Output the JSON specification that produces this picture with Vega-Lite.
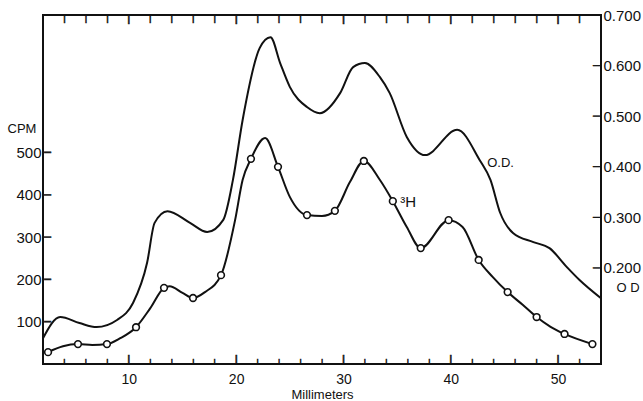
{
  "$schema": "https://vega.github.io/schema/vega-lite/v6.json",
  "width": 558,
  "height": 349,
  "autosize": {"type": "none"},
  "padding": {"left": 43, "top": 15, "right": 42, "bottom": 37},
  "background": "white",
  "config": {
    "view": {"stroke": "#111", "strokeWidth": 2},
    "font": "Liberation Sans",
    "axis": {
      "domain": false,
      "grid": false,
      "ticks": false,
      "labelColor": "#111",
      "labelFont": "Liberation Sans",
      "labelFontSize": 15,
      "titleColor": "#111",
      "titleFont": "Liberation Sans",
      "titleFontWeight": "normal"
    }
  },
  "datasets": {
    "od": [
      {"mm": 2.0, "od": 0.061}, {"mm": 3.6, "od": 0.103}, {"mm": 5.4, "od": 0.091},
      {"mm": 7.0, "od": 0.083}, {"mm": 8.9, "od": 0.097}, {"mm": 10.4, "od": 0.131},
      {"mm": 11.7, "od": 0.21}, {"mm": 12.4, "od": 0.289}, {"mm": 13.6, "od": 0.312},
      {"mm": 15.7, "od": 0.289}, {"mm": 17.3, "od": 0.271}, {"mm": 18.8, "od": 0.295},
      {"mm": 19.7, "od": 0.374}, {"mm": 20.6, "od": 0.492}, {"mm": 22.2, "od": 0.635},
      {"mm": 23.2, "od": 0.656}, {"mm": 24.1, "od": 0.605}, {"mm": 25.0, "od": 0.558},
      {"mm": 26.6, "od": 0.518}, {"mm": 27.8, "od": 0.506}, {"mm": 29.7, "od": 0.546},
      {"mm": 30.9, "od": 0.597}, {"mm": 32.0, "od": 0.605}, {"mm": 33.4, "od": 0.577},
      {"mm": 34.3, "od": 0.546}, {"mm": 35.9, "od": 0.459}, {"mm": 37.6, "od": 0.423},
      {"mm": 40.6, "od": 0.473}, {"mm": 42.7, "od": 0.413}, {"mm": 43.7, "od": 0.374},
      {"mm": 44.6, "od": 0.309}, {"mm": 45.8, "od": 0.269}, {"mm": 47.7, "od": 0.251},
      {"mm": 49.2, "od": 0.239}, {"mm": 50.8, "od": 0.202}, {"mm": 52.0, "od": 0.176},
      {"mm": 54.0, "od": 0.14}
    ],
    "h3": [
      {"mm": 2.47, "cpm": 28, "obs": 1}, {"mm": 3.86, "cpm": 42, "obs": 0},
      {"mm": 5.26, "cpm": 47, "obs": 1}, {"mm": 6.6, "cpm": 45, "obs": 0},
      {"mm": 7.96, "cpm": 47, "obs": 1}, {"mm": 9.2, "cpm": 61, "obs": 0},
      {"mm": 10.67, "cpm": 87, "obs": 1}, {"mm": 12.0, "cpm": 132, "obs": 0},
      {"mm": 13.28, "cpm": 180, "obs": 1}, {"mm": 13.8, "cpm": 184, "obs": 0},
      {"mm": 15.0, "cpm": 168, "obs": 0}, {"mm": 15.98, "cpm": 156, "obs": 1},
      {"mm": 17.1, "cpm": 170, "obs": 0}, {"mm": 18.59, "cpm": 210, "obs": 1},
      {"mm": 19.9, "cpm": 340, "obs": 0}, {"mm": 20.6, "cpm": 435, "obs": 0},
      {"mm": 21.38, "cpm": 485, "obs": 1}, {"mm": 22.7, "cpm": 534, "obs": 0},
      {"mm": 23.9, "cpm": 466, "obs": 1}, {"mm": 25.0, "cpm": 395, "obs": 0},
      {"mm": 26.6, "cpm": 352, "obs": 1}, {"mm": 28.0, "cpm": 350, "obs": 0},
      {"mm": 29.2, "cpm": 362, "obs": 1}, {"mm": 30.6, "cpm": 430, "obs": 0},
      {"mm": 31.9, "cpm": 480, "obs": 1}, {"mm": 33.4, "cpm": 435, "obs": 0},
      {"mm": 34.6, "cpm": 385, "obs": 1}, {"mm": 35.9, "cpm": 324, "obs": 0},
      {"mm": 37.2, "cpm": 274, "obs": 1}, {"mm": 39.8, "cpm": 340, "obs": 1},
      {"mm": 41.1, "cpm": 324, "obs": 0}, {"mm": 42.6, "cpm": 246, "obs": 1},
      {"mm": 43.9, "cpm": 206, "obs": 0}, {"mm": 45.3, "cpm": 170, "obs": 1},
      {"mm": 46.7, "cpm": 140, "obs": 0}, {"mm": 48.0, "cpm": 111, "obs": 1},
      {"mm": 49.3, "cpm": 88, "obs": 0}, {"mm": 50.6, "cpm": 71, "obs": 1},
      {"mm": 53.2, "cpm": 47, "obs": 1}
    ],
    "minorTicks": [
      {"mm": 4}, {"mm": 6}, {"mm": 8}, {"mm": 12}, {"mm": 14}, {"mm": 16}, {"mm": 18},
      {"mm": 22}, {"mm": 24}, {"mm": 26}, {"mm": 28}, {"mm": 32}, {"mm": 34}, {"mm": 36},
      {"mm": 38}, {"mm": 42}, {"mm": 44}, {"mm": 46}, {"mm": 48}, {"mm": 52}
    ],
    "majorTicks": [{"mm": 10}, {"mm": 20}, {"mm": 30}, {"mm": 40}, {"mm": 50}]
  },
  "resolve": {"scale": {"y": "independent"}, "axis": {"x": "independent", "y": "independent"}},
  "layer": [
    {
      "data": {"name": "od"},
      "mark": {"type": "line", "interpolate": "monotone", "color": "#111", "strokeWidth": 2},
      "encoding": {
        "x": {
          "field": "mm", "type": "quantitative",
          "scale": {"domain": [2, 54], "nice": false, "zero": false},
          "axis": {
            "orient": "bottom",
            "values": [10, 20, 30, 40, 50],
            "labelFontSize": 14,
            "labelPadding": 8,
            "title": "Millimeters",
            "titleFontSize": 13,
            "titleBaseline": "middle",
            "titleY": 30
          }
        },
        "y": {
          "field": "od", "type": "quantitative",
          "scale": {"domain": [0.01, 0.7], "nice": false, "zero": false},
          "axis": {
            "orient": "right",
            "values": [0.2, 0.3, 0.4, 0.5, 0.6, 0.7],
            "format": ".3f",
            "labelPadding": 2,
            "title": "O D",
            "titleAngle": 0,
            "titleFontSize": 13,
            "titleAlign": "left",
            "titleBaseline": "middle",
            "titleX": 15,
            "titleY": 272
          }
        }
      }
    },
    {
      "data": {"name": "h3"},
      "mark": {"type": "line", "interpolate": "monotone", "color": "#111", "strokeWidth": 2},
      "encoding": {
        "x": {"field": "mm", "type": "quantitative", "axis": null},
        "y": {
          "field": "cpm", "type": "quantitative",
          "scale": {"domain": [0, 825], "nice": false, "zero": false},
          "axis": {
            "orient": "left",
            "values": [100, 200, 300, 400, 500],
            "labelPadding": 2,
            "title": "CPM",
            "titleAngle": 0,
            "titleFontSize": 13,
            "titleAlign": "left",
            "titleBaseline": "middle",
            "titleX": -36,
            "titleY": 113
          }
        }
      }
    },
    {
      "data": {"name": "h3"},
      "transform": [{"filter": "datum.obs === 1"}],
      "mark": {"type": "point", "shape": "circle", "filled": true, "fill": "white", "stroke": "#111", "strokeWidth": 1.6, "size": 45, "opacity": 1},
      "encoding": {
        "x": {"field": "mm", "type": "quantitative", "axis": null},
        "y": {"field": "cpm", "type": "quantitative", "scale": {"domain": [0, 825], "nice": false, "zero": false}, "axis": null}
      }
    },
    {
      "data": {"values": [{}]},
      "mark": {"type": "text", "text": "O.D.", "align": "left", "baseline": "middle", "fontSize": 13, "color": "#111"},
      "encoding": {
        "x": {"datum": 43.4, "type": "quantitative", "axis": null},
        "y": {"datum": 0.407, "type": "quantitative", "scale": {"domain": [0.01, 0.7], "nice": false, "zero": false}, "axis": null}
      }
    },
    {
      "data": {"values": [{}]},
      "mark": {"type": "text", "text": "³H", "align": "left", "baseline": "middle", "fontSize": 15, "color": "#111"},
      "encoding": {
        "x": {"datum": 35.3, "type": "quantitative", "axis": null},
        "y": {"datum": 383, "type": "quantitative", "scale": {"domain": [0, 825], "nice": false, "zero": false}, "axis": null}
      }
    },
    {
      "data": {"name": "minorTicks"},
      "mark": {"type": "text", "text": "|", "align": "center", "baseline": "middle", "fontSize": 6, "fontWeight": "bold", "fill": "#111", "stroke": "#111", "strokeWidth": 0.5},
      "encoding": {
        "x": {"field": "mm", "type": "quantitative", "axis": null},
        "y": {"datum": 7.1, "type": "quantitative", "scale": {"domain": [0, 825], "nice": false, "zero": false}, "axis": null}
      }
    },
    {
      "data": {"name": "minorTicks"},
      "mark": {"type": "text", "text": "|", "align": "center", "baseline": "top", "fontSize": 7, "fontWeight": "bold", "fill": "#111", "stroke": "#111", "strokeWidth": 0.5},
      "encoding": {
        "x": {"field": "mm", "type": "quantitative", "axis": null},
        "y": {"datum": 825, "type": "quantitative", "scale": {"domain": [0, 825], "nice": false, "zero": false}, "axis": null}
      }
    },
    {
      "data": {"name": "majorTicks"},
      "mark": {"type": "text", "text": "|", "align": "center", "baseline": "middle", "fontSize": 9, "fontWeight": "bold", "fill": "#111", "stroke": "#111", "strokeWidth": 0.5},
      "encoding": {
        "x": {"field": "mm", "type": "quantitative", "axis": null},
        "y": {"datum": 11.8, "type": "quantitative", "scale": {"domain": [0, 825], "nice": false, "zero": false}, "axis": null}
      }
    },
    {
      "data": {"name": "majorTicks"},
      "mark": {"type": "text", "text": "|", "align": "center", "baseline": "top", "fontSize": 9, "fontWeight": "bold", "fill": "#111", "stroke": "#111", "strokeWidth": 0.5},
      "encoding": {
        "x": {"field": "mm", "type": "quantitative", "axis": null},
        "y": {"datum": 825, "type": "quantitative", "scale": {"domain": [0, 825], "nice": false, "zero": false}, "axis": null}
      }
    },
    {
      "data": {"values": [{"cpm": 100}, {"cpm": 200}, {"cpm": 300}, {"cpm": 400}, {"cpm": 500}]},
      "mark": {"type": "text", "text": "|", "angle": 90, "align": "center", "baseline": "middle", "fontSize": 8, "fontWeight": "bold", "fill": "#111", "stroke": "#111", "strokeWidth": 0.5},
      "encoding": {
        "x": {"datum": 2.42, "type": "quantitative", "axis": null},
        "y": {"field": "cpm", "type": "quantitative", "scale": {"domain": [0, 825], "nice": false, "zero": false}, "axis": null}
      }
    },
    {
      "data": {"values": [{"od": 0.2}, {"od": 0.3}, {"od": 0.4}, {"od": 0.5}, {"od": 0.6}, {"od": 0.7}]},
      "mark": {"type": "text", "text": "|", "angle": 90, "align": "center", "baseline": "middle", "fontSize": 6.5, "fontWeight": "bold", "fill": "#111", "stroke": "#111", "strokeWidth": 0.5},
      "encoding": {
        "x": {"datum": 53.67, "type": "quantitative", "axis": null},
        "y": {"field": "od", "type": "quantitative", "scale": {"domain": [0.01, 0.7], "nice": false, "zero": false}, "axis": null}
      }
    }
  ]
}
